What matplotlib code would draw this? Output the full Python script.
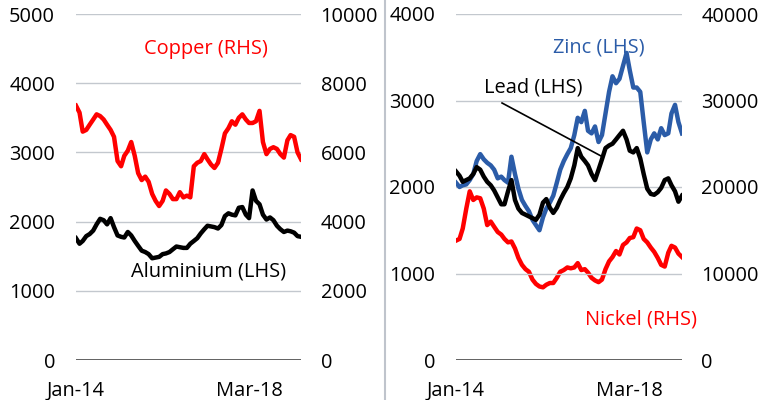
import matplotlib
matplotlib.use("Agg")
import matplotlib.pyplot as plt
from matplotlib.lines import Line2D
import pandas as pd

plt.rcParams['font.family'] = ['Open Sans', 'DejaVu Sans']

months = pd.date_range("2014-01-01", periods=66, freq="MS")

# US$ per tonne, monthly
copper = [7350, 7150, 6600, 6650, 6800, 6950, 7100, 7050, 6950, 6800, 6650, 6450,
          5750, 5600, 5900, 6050, 6300, 5900, 5400, 5200, 5300, 5150, 4800, 4600,
          4450, 4600, 4900, 4800, 4650, 4650, 4850, 4700, 4750, 4700, 5600, 5700,
          5750, 5950, 5800, 5650, 5550, 5700, 6100, 6550, 6700, 6900, 6800, 7000,
          7100, 6950, 6850, 6850, 6900, 7200, 6300, 5950, 6100, 6150, 6100, 5950,
          5850, 6350, 6500, 6450, 6000, 5800]
aluminium = [1760, 1680, 1720, 1790, 1820, 1870, 1960, 2040, 2020, 1960, 2050, 1920,
             1800, 1780, 1770, 1850, 1800, 1720, 1650, 1580, 1560, 1530, 1470, 1480,
             1490, 1530, 1540, 1560, 1600, 1640, 1630, 1620, 1620, 1680, 1720, 1760,
             1830, 1890, 1940, 1930, 1920, 1900, 1950, 2080, 2120, 2100, 2090, 2200,
             2210, 2100, 2050, 2450, 2300, 2250, 2100, 2030, 2060, 2020, 1940, 1890,
             1850, 1870, 1860, 1840, 1790, 1780]
zinc = [2050, 2000, 2020, 2030, 2080, 2150, 2300, 2380, 2320, 2280, 2250, 2200,
        2100, 2120, 2080, 2050, 2350, 2150, 1980, 1850, 1780, 1720, 1620, 1560,
        1500, 1650, 1750, 1820, 1900, 2050, 2200, 2300, 2380, 2450, 2600, 2800,
        2750, 2880, 2650, 2620, 2700, 2520, 2600, 2850, 3100, 3280, 3200, 3250,
        3400, 3550, 3350, 3150, 3150, 3100, 2750, 2400, 2550, 2620, 2550, 2680,
        2600, 2620, 2850, 2950, 2750, 2620]
lead = [2180, 2130, 2060, 2080, 2100, 2150, 2230, 2200, 2120, 2060, 2020, 1960,
        1880, 1800, 1800, 1950, 2080, 1850, 1750, 1700, 1680, 1660, 1640, 1620,
        1680, 1820, 1860, 1760, 1700, 1760, 1850, 1930, 2000, 2100, 2250, 2450,
        2350, 2300, 2250, 2150, 2080, 2200, 2320, 2450, 2480, 2500, 2550, 2600,
        2650, 2550, 2420, 2400, 2450, 2330, 2150, 1980, 1920, 1910, 1940, 1990,
        2080, 2100, 2020, 1950, 1830, 1900]
nickel = [13800, 14000, 15200, 17500, 19500, 18500, 18800, 18700, 17500, 15600, 16000, 15400,
          14800, 14500, 14000, 13600, 13700, 12900, 11800, 11000, 10500, 10200, 9300, 8800,
          8500, 8400, 8700, 8900, 8900, 9500, 10200, 10400, 10700, 10600, 10700, 11200,
          10400, 10500, 10100, 9500, 9200, 9000, 9300, 10500, 11400, 11900, 12600, 12200,
          13300, 13600, 14100, 14200, 15200, 15000, 14000, 13600, 13000, 12500, 11800, 11000,
          10800, 12400, 13200, 13000, 12300, 11900]

tick_dates = [pd.Timestamp("2014-01-01"), pd.Timestamp("2018-03-01")]
tick_labels = ["Jan-14", "Mar-18"]

RED = "#FF0000"
BLUE = "#2B5CA8"
GRID = "#C3C8CE"
FS = 14.4
LW = 3.2

fig = plt.figure(figsize=(7.7, 4), dpi=100)


def style(ax, ax2, lmax, rmax, lstep, rstep):
    ax.set_ylim(0, lmax)
    ax2.set_ylim(0, rmax)
    ax.set_yticks(range(0, lmax + 1, lstep))
    ax2.set_yticks(range(0, rmax + 1, rstep))
    ax.set_xlim(months[0], months[-1])
    ax.set_xticks(tick_dates)
    ax.set_xticklabels(tick_labels)
    for a in (ax, ax2):
        for s in ("top", "left", "right", "bottom"):
            a.spines[s].set_visible(False)
        a.tick_params(length=0, labelsize=FS)
    ax.tick_params(axis="y", pad=15)
    ax2.tick_params(axis="y", pad=14)
    ax.tick_params(axis="x", pad=15)
    ax.grid(axis="y", color=GRID, lw=1)
    ax.axhline(0, color="#3A3A3A", lw=1.1, zorder=5)
    ax.set_axisbelow(True)


# copper & aluminium
ax1 = fig.add_axes([0.0987, 0.1, 0.2923, 0.865])
ax1r = ax1.twinx()
style(ax1, ax1r, 5000, 10000, 1000, 2000)
ax1.plot(months, aluminium, color="black", lw=LW, zorder=3)
ax1r.plot(months, copper, color=RED, lw=LW)

# zinc, lead & nickel
ax2 = fig.add_axes([0.5922, 0.1, 0.2935, 0.865])
ax2r = ax2.twinx()
style(ax2, ax2r, 4000, 40000, 1000, 10000)
ax2r.plot(months, nickel, color=RED, lw=LW)
ax2.plot(months, zinc, color=BLUE, lw=LW, zorder=3)
ax2.plot(months, lead, color="black", lw=LW, zorder=4)
ax2.set_zorder(ax2r.get_zorder() + 1)
ax2.patch.set_visible(False)

fig.text(0.2675, 0.8775, "Copper (RHS)", color=RED, fontsize=FS, ha="center", va="center")
fig.text(0.2714, 0.3225, "Aluminium (LHS)", color="black", fontsize=FS, ha="center", va="center")
fig.text(0.778, 0.8825, "Zinc (LHS)", color=BLUE, fontsize=FS, ha="center", va="center")
fig.text(0.692, 0.7825, "Lead (LHS)", color="black", fontsize=FS, ha="center", va="center")
fig.text(0.8325, 0.2, "Nickel (RHS)", color=RED, fontsize=FS, ha="center", va="center")

fig.add_artist(Line2D([0.652, 0.783], [0.7425, 0.6075], color="black", lw=1.2,
                      transform=fig.transFigure, zorder=10))
fig.add_artist(Line2D([0.5006, 0.5006], [0, 1], color="#BFC4CC", lw=1.5,
                      transform=fig.transFigure))

fig.savefig("out.png", dpi=100)
